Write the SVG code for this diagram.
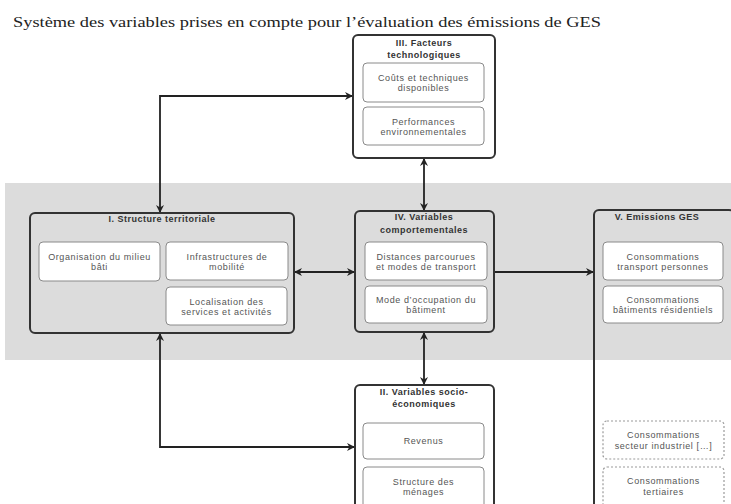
<svg xmlns="http://www.w3.org/2000/svg" width="731" height="504" viewBox="0 0 731 504">
<defs>
<marker id="ah" viewBox="0 0 10 10" refX="10" refY="5" markerWidth="9" markerHeight="8" markerUnits="userSpaceOnUse" orient="auto-start-reverse">
<path d="M0,0 L10,5 L0,10 L3,5 z" fill="#222"/>
</marker>
<style>
.outer{fill:none;stroke:#333;stroke-width:2}
.inner{fill:#fff;stroke:#8a8a8a;stroke-width:1}
.dash{fill:#fff;stroke:#9a9a9a;stroke-width:1.2;stroke-dasharray:2 2}
.t{font-family:"Liberation Sans",Arial,sans-serif;font-size:9px;letter-spacing:0.6px;fill:#555;text-anchor:middle}
.h{font-family:"Liberation Sans",Arial,sans-serif;font-size:9px;letter-spacing:0.5px;font-weight:bold;fill:#333;text-anchor:middle}
.c{fill:none;stroke:#222;stroke-width:1.8}
</style>
</defs>
<rect width="731" height="504" fill="#fff"/>
<text x="13" y="27" font-family="'Liberation Serif','Times New Roman',serif" font-size="15" fill="#222" textLength="588" lengthAdjust="spacingAndGlyphs">Système des variables prises en compte pour l’évaluation des émissions de GES</text>
<rect x="5" y="183" width="726" height="177" fill="#dcdcdc"/>

<g id="connectors">
<path class="c" d="M160,213 V96 H353" marker-start="url(#ah)" marker-end="url(#ah)"/>
<path class="c" d="M160,333 V447 H355" marker-start="url(#ah)" marker-end="url(#ah)"/>
<path class="c" d="M424,158 V211" marker-start="url(#ah)" marker-end="url(#ah)"/>
<path class="c" d="M424,332 V385" marker-start="url(#ah)" marker-end="url(#ah)"/>
<path class="c" d="M294,272 H355" marker-start="url(#ah)" marker-end="url(#ah)"/>
<path class="c" d="M494,272 H594" marker-end="url(#ah)"/>
</g>

<g id="node-I">
<rect class="outer" x="30" y="213" width="264" height="120" rx="5"/>
<text class="h" x="162" y="222">I. Structure territoriale</text>
<rect class="inner" x="39" y="242" width="121" height="39" rx="4"/>
<text class="t" x="99.5" y="260">Organisation du milieu</text>
<text class="t" x="99.5" y="270">bâti</text>
<rect class="inner" x="166" y="242" width="122" height="38" rx="4"/>
<text class="t" x="227" y="259.5">Infrastructures de</text>
<text class="t" x="227" y="269.5">mobilité</text>
<rect class="inner" x="166" y="287" width="121" height="38" rx="4"/>
<text class="t" x="226.5" y="304.5">Localisation des</text>
<text class="t" x="226.5" y="314.5">services et activités</text>
</g>

<g id="node-III">
<rect class="outer" x="353" y="35" width="142" height="123" rx="5"/>
<text class="h" x="424" y="46">III. Facteurs</text>
<text class="h" x="424" y="58">technologiques</text>
<rect class="inner" x="363" y="63" width="121" height="39" rx="4"/>
<text class="t" x="423.5" y="81">Coûts et techniques</text>
<text class="t" x="423.5" y="91">disponibles</text>
<rect class="inner" x="363" y="107" width="121" height="38" rx="4"/>
<text class="t" x="423.5" y="124.5">Performances</text>
<text class="t" x="423.5" y="134.5">environnementales</text>
</g>

<g id="node-IV">
<rect class="outer" x="355" y="211" width="139" height="121" rx="5"/>
<text class="h" x="424" y="220">IV. Variables</text>
<text class="h" x="424" y="233">comportementales</text>
<rect class="inner" x="365" y="242" width="122" height="38" rx="4"/>
<text class="t" x="426" y="259.5">Distances parcourues</text>
<text class="t" x="426" y="269.5">et modes de transport</text>
<rect class="inner" x="365" y="286" width="122" height="37" rx="4"/>
<text class="t" x="426" y="303">Mode d’occupation du</text>
<text class="t" x="426" y="313">bâtiment</text>
</g>

<g id="node-V">
<rect class="outer" x="594" y="210" width="140" height="310" rx="5"/>
<text class="h" x="657" y="220">V. Emissions GES</text>
<rect class="inner" x="603" y="242" width="120" height="38" rx="4"/>
<text class="t" x="663" y="259.5">Consommations</text>
<text class="t" x="663" y="269.5">transport personnes</text>
<rect class="inner" x="603" y="286" width="120" height="37" rx="4"/>
<text class="t" x="663" y="303">Consommations</text>
<text class="t" x="663" y="313">bâtiments résidentiels</text>
<rect class="dash" x="603" y="421" width="121" height="38" rx="4"/>
<text class="t" x="663.5" y="438">Consommations</text>
<text class="t" x="663.5" y="449">secteur industriel […]</text>
<rect class="dash" x="603" y="467" width="121" height="45" rx="4"/>
<text class="t" x="663.5" y="484">Consommations</text>
<text class="t" x="663.5" y="495">tertiaires</text>
</g>

<g id="node-II">
<rect class="outer" x="355" y="385" width="139" height="130" rx="5"/>
<text class="h" x="424" y="395">II. Variables socio-</text>
<text class="h" x="424" y="407">économiques</text>
<rect class="inner" x="363" y="423" width="121" height="36" rx="4"/>
<text class="t" x="423.5" y="444">Revenus</text>
<rect class="inner" x="363" y="467" width="121" height="45" rx="4"/>
<text class="t" x="423.5" y="485">Structure des</text>
<text class="t" x="423.5" y="495">ménages</text>
</g>
</svg>
